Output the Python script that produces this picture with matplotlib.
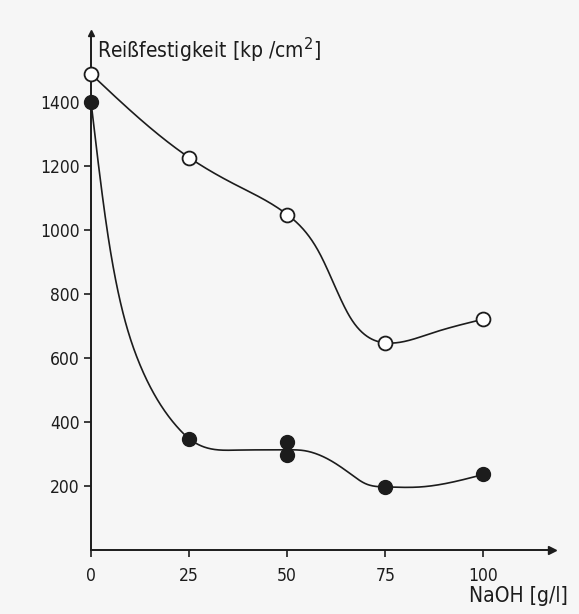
import numpy as np
import matplotlib
matplotlib.use("Agg")
import matplotlib.pyplot as plt

open_x = [0, 25, 50, 75, 100]
open_y = [1487, 1226, 1048, 647, 721]
filled_x = [0, 25, 50, 50, 75, 100]
filled_y = [1400, 348, 337, 296, 197, 236]

# hand-drawn fit curves
open_curve_x = [0, 12.6, 25, 37, 50, 58.3, 66, 69, 75, 87, 100]
open_curve_y = [1487, 1345, 1226, 1140, 1048, 926, 728, 681, 647, 678, 721]
filled_curve_x = [0, 4, 7, 12, 16, 22, 25, 37, 50, 54, 61, 66, 70, 75, 84, 100]
filled_curve_y = [1400, 1009, 801, 593, 489, 384, 348, 312, 313, 311, 280, 239, 207, 197, 197, 236]

x_ticks = [0, 25, 50, 75, 100]
y_ticks = [200, 400, 600, 800, 1000, 1200, 1400]


def spline(x, y, xs):
    # natural cubic spline
    x = np.asarray(x, float)
    y = np.asarray(y, float)
    n = len(x)
    h = np.diff(x)
    A = np.zeros((n, n))
    b = np.zeros(n)
    A[0, 0] = A[-1, -1] = 1
    for i in range(1, n - 1):
        A[i, i - 1] = h[i - 1]
        A[i, i] = 2 * (h[i - 1] + h[i])
        A[i, i + 1] = h[i]
        b[i] = 3 * ((y[i + 1] - y[i]) / h[i] - (y[i] - y[i - 1]) / h[i - 1])
    c = np.linalg.solve(A, b)
    bb = (y[1:] - y[:-1]) / h - h * (2 * c[:-1] + c[1:]) / 3
    d = (c[1:] - c[:-1]) / (3 * h)
    idx = np.clip(np.searchsorted(x, xs) - 1, 0, n - 2)
    t = xs - x[idx]
    return y[idx] + bb[idx] * t + c[idx] * t**2 + d[idx] * t**3


plt.rcParams["font.family"] = ["DejaVu Sans"]

bg = "#f6f6f6"
ink = "#1c1c1c"
fig = plt.figure(figsize=(5.79, 6.14), dpi=100, facecolor=bg)
ax = fig.add_axes([91 / 579, 1 - 550 / 614, 461 / 579, 517 / 614], facecolor=bg)

xs = np.linspace(0, 100, 800)
ax.plot(xs, spline(open_curve_x, open_curve_y, xs), color=ink, lw=1.2, zorder=2)
ax.plot(xs, spline(filled_curve_x, filled_curve_y, xs), color=ink, lw=1.2, zorder=2)

ax.plot(open_x, open_y, "o", ms=10, mfc="white", mec=ink, mew=1.3, zorder=3, clip_on=False)
ax.plot(filled_x, filled_y, "o", ms=10, mfc=ink, mec=ink, zorder=4, clip_on=False)

ax.set_xlim(0, 117.5)
ax.set_ylim(0, 1615)
for s in ["top", "right"]:
    ax.spines[s].set_visible(False)
for s in ["left", "bottom"]:
    ax.spines[s].set_linewidth(1.4)
    ax.spines[s].set_color(ink)

# arrow heads on axes
ax.plot(1, 0, ">", color=ink, ms=6, transform=ax.get_yaxis_transform(), clip_on=False)
ax.plot(0, 1, "^", color=ink, ms=5, transform=ax.get_xaxis_transform(), clip_on=False)

ax.set_xticks(x_ticks)
ax.set_yticks(y_ticks)
ax.tick_params(axis="both", direction="out", length=5, width=1.2, color=ink,
               labelsize=12.5, labelcolor=ink)
ax.tick_params(axis="x", pad=7)
ax.tick_params(axis="y", pad=3)
for lab in ax.get_xticklabels() + ax.get_yticklabels():
    lab.set_fontstretch("condensed")

fig.text(97 / 579, 1 - 58 / 614, "Reißfestigkeit [kp /cm$^2$]", fontsize=15, color=ink,
         ha="left", va="baseline", fontstretch="condensed")
fig.text(568 / 579, 1 - 602 / 614, "NaOH [g/l]", fontsize=15, color=ink,
         ha="right", va="baseline", fontstretch="condensed")

fig.savefig("out.png", dpi=100, facecolor=bg)
